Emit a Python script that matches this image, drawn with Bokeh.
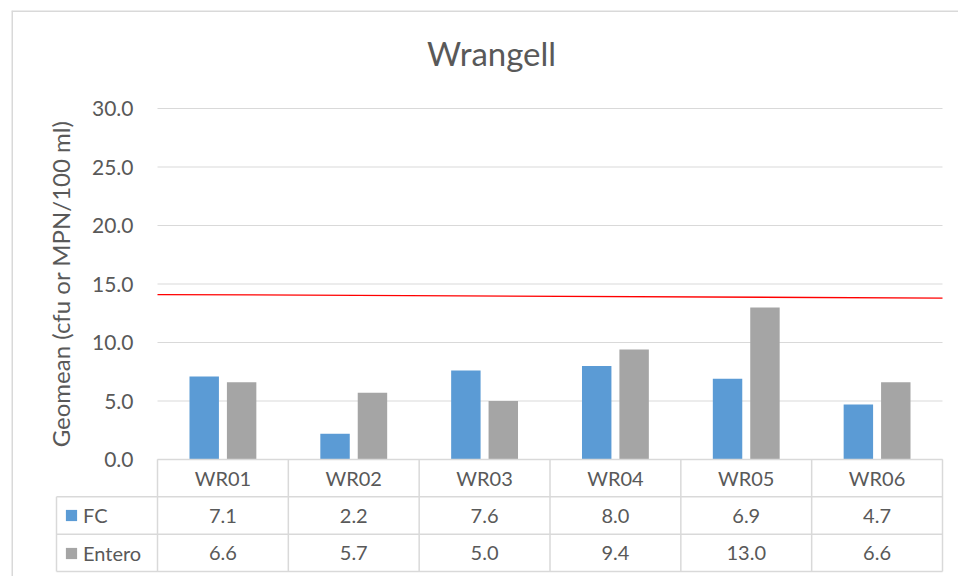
import numpy as np
from bokeh.plotting import figure
from bokeh.models import (ColumnDataSource, Range1d, FixedTicker, NumeralTickFormatter,
                          Legend, LegendItem)
from bokeh.core.properties import value
from bokeh.transform import dodge
from bokeh.embed import file_html
from bokeh.resources import INLINE

# ---------------- data ----------------
chart_title = "Wrangell"
y_label = "Geomean (cfu or MPN/100 ml)"
categories = ["WR01", "WR02", "WR03", "WR04", "WR05", "WR06"]
series_names = ["FC", "Entero"]
fc = [7.1, 2.2, 7.6, 8.0, 6.9, 4.7]
entero = [6.6, 5.7, 5.0, 9.4, 13.0, 6.6]
y_ticks = [0, 5, 10, 15, 20, 25, 30]
threshold = [14.1, 13.8]   # red reference line, left end / right end

# ---------------- style ----------------
FONT = "Lato"
TEXT = "#595959"
GRID = "#D9D9D9"
BLUE = "#5B9BD5"
GRAY = "#A5A5A5"
RED = "#FF0000"

W, H = 958, 576
FRAME_L, FRAME_T = 11, 10          # chart-area border (left, top) in pixels
PLOT_L, PLOT_B, PLOT_T = 157, 459, 108   # plot area edges in pixels
n = len(categories)
y_max = y_ticks[-1]
PX_PER_Y = (PLOT_B - PLOT_T) / y_max
PX_PER_X = 785 / n
x_start = -(PLOT_L - FRAME_L) / PX_PER_X
x_end = (W - PLOT_L) / PX_PER_X
y_start = -(H - PLOT_B) / PX_PER_Y
y_end = (PLOT_B - FRAME_T) / PX_PER_Y
row_h = (571 - PLOT_B) / 3 / PX_PER_Y
left_col = -(PLOT_L - 56) / PX_PER_X

p = figure(width=W, height=H,
           x_range=Range1d(x_start, x_end), y_range=Range1d(y_start, y_end),
           output_backend="svg", toolbar_location=None,
           x_axis_location=None, y_axis_location="left",
           min_border_left=FRAME_L, min_border_right=0,
           min_border_top=FRAME_T, min_border_bottom=0)
p.outline_line_color = None
p.background_fill_color = "white"
p.border_fill_color = "white"
p.xgrid.visible = False
p.ygrid.visible = False

# chart-area border (left and top edges)
p.segment(x0=[x_start, x_start], y0=[y_start, y_end], x1=[x_start, x_end], y1=[y_end, y_end],
          line_color=GRID, line_width=3)

# title
p.text(x=[(491 - PLOT_L) / PX_PER_X], y=[(PLOT_B - 52) / PX_PER_Y], text=[chart_title],
       text_align="center", text_baseline="middle",
       text_font=value(FONT), text_font_size="33px", text_color=TEXT)

ax = p.yaxis[0]
ax.fixed_location = 0
ax.bounds = (0, y_max)
ax.ticker = FixedTicker(ticks=y_ticks)
ax.formatter = NumeralTickFormatter(format="0.0")
ax.axis_line_color = None
ax.major_tick_line_color = None
ax.minor_tick_line_color = None
ax.major_tick_in = 0
ax.major_tick_out = 0
ax.major_label_standoff = 24
ax.major_label_text_font = FONT
ax.major_label_text_font_size = "21px"
ax.major_label_text_color = TEXT
ax.axis_label = y_label
ax.axis_label_standoff = 14
ax.axis_label_text_font = FONT
ax.axis_label_text_font_size = "24px"
ax.axis_label_text_font_style = "normal"
ax.axis_label_text_color = TEXT

# gridlines across the plot area
p.segment(x0=0, x1=n, y0=y_ticks, y1=y_ticks, line_color=GRID, line_width=1)

src = ColumnDataSource(dict(
    x=np.arange(n) + 0.5, cat=categories, fc=fc, entero=entero,
    fc_txt=[f"{v:.1f}" for v in fc], en_txt=[f"{v:.1f}" for v in entero]))

r_fc = p.vbar(x=dodge("x", -0.143), top="fc", width=0.225, source=src,
              fill_color=BLUE, line_color=None)
r_en = p.vbar(x=dodge("x", 0.143), top="entero", width=0.225, source=src,
              fill_color=GRAY, line_color=None)

p.line(x=[0, n], y=threshold, line_color=RED, line_width=1.3)

# ---------------- data table ----------------
p.segment(x0=[0, left_col, left_col, left_col], x1=n,
          y0=[0, -row_h, -2 * row_h, -3 * row_h],
          y1=[0, -row_h, -2 * row_h, -3 * row_h],
          line_color=GRID, line_width=1.5)
p.segment(x0=list(range(n + 1)), x1=list(range(n + 1)), y0=0, y1=-3 * row_h,
          line_color=GRID, line_width=1.5)
p.segment(x0=left_col, x1=left_col, y0=-row_h, y1=-3 * row_h,
          line_color=GRID, line_width=1.5)

for field, k in (("cat", 0), ("fc_txt", 1), ("en_txt", 2)):
    p.text(x="x", y=-(k + 0.5) * row_h, text=field, source=src,
           text_align="center", text_baseline="middle",
           text_font=value(FONT), text_font_size="20px", text_color=TEXT)

legend = Legend(items=[LegendItem(label=series_names[0], renderers=[r_fc]),
                       LegendItem(label=series_names[1], renderers=[r_en])],
                location=(53, 11), orientation="vertical",
                glyph_width=14, glyph_height=14, label_height=24,
                spacing=14, padding=0, margin=0, label_standoff=5,
                border_line_color=None, background_fill_alpha=0,
                label_text_font=FONT, label_text_font_size="20px",
                label_text_color=TEXT)
p.add_layout(legend)

open("out.html", "w").write(file_html(p, INLINE))
